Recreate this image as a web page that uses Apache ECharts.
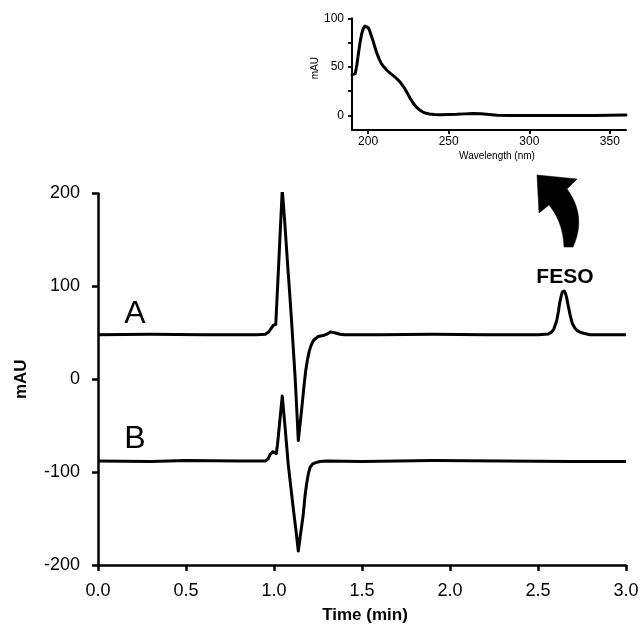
<!DOCTYPE html>
<html>
<head>
<meta charset="utf-8">
<script src="https://cdn.jsdelivr.net/npm/echarts@6/dist/echarts.min.js"></script>
<style>
  html, body { margin: 0; padding: 0; background: #fff; }
  #chart { width: 643px; height: 631px; }
</style>
</head>
<body>
<div id="chart"></div>
<script>
// Chromatogram, trace A (sample with FESO)
var timeA = [0, 0.3, 0.6, 0.9, 0.95, 0.97, 0.985, 0.996, 1.01, 1.02, 1.035, 1.047, 1.06, 1.075, 1.09, 1.1, 1.11, 1.12, 1.13, 1.138, 1.15, 1.16, 1.17, 1.18, 1.19, 1.2, 1.212, 1.225, 1.25, 1.28, 1.3, 1.32, 1.345, 1.375, 1.4, 1.6, 1.9, 2.2, 2.5, 2.559, 2.578, 2.59, 2.606, 2.616, 2.623, 2.631, 2.638, 2.644, 2.65, 2.657, 2.663, 2.672, 2.682, 2.695, 2.71, 2.725, 2.748, 2.795, 2.9, 3.0];
var signalA = [48, 48.5, 48, 48, 48.5, 51, 55, 58, 59, 98, 157, 204, 172, 130, 90, 62, 32, 2, -35, -66, -45, -27, -8, 9, 21, 30, 37, 42, 46, 47, 48.5, 51, 50, 48.5, 48, 48, 48.5, 48, 48, 48.8, 51, 54, 63, 73, 82, 89, 94, 96, 95, 92, 87.5, 79, 69.6, 60, 55, 52, 50, 48, 48, 48];

// Chromatogram, trace B (blank)
var timeB = [0, 0.3, 0.5, 0.8, 0.95, 0.965, 0.978, 0.992, 1.002, 1.013, 1.02, 1.035, 1.047, 1.06, 1.081, 1.095, 1.11, 1.125, 1.138, 1.15, 1.166, 1.176, 1.185, 1.195, 1.205, 1.22, 1.233, 1.26, 1.3, 1.5, 1.9, 2.3, 2.7, 3.0];
var signalB = [-88, -88.5, -87.5, -88, -88, -86, -81, -78, -79, -80, -70, -41, -18, -45, -92, -115, -140, -163, -185, -168, -146, -126, -113, -102, -95, -91, -90, -88.5, -88, -88.5, -87.5, -88, -88.5, -88.5];

// UV spectrum of the FESO peak
var wavelengths = [190, 191, 192, 193, 194, 195, 196, 197, 198, 199, 200, 201, 202, 203, 204, 205, 206, 207, 208, 209, 210, 212, 214, 216, 218, 220, 222, 224, 226, 228, 230, 232, 234, 236, 238, 241, 245, 250, 255, 260, 265, 270, 275, 280, 290, 300, 320, 340, 360];
var absorbance = [42, 40.5, 43, 52, 64, 75, 84, 89.5, 92, 92.5, 90.5, 87, 82, 77, 71.5, 66, 61.5, 57.5, 54, 51.5, 49.5, 46, 43, 40.5, 37.5, 34, 29.5, 24, 18, 12.5, 8.5, 5.5, 3.5, 2.2, 1.5, 1, 0.8, 1, 1.2, 1.6, 2, 1.7, 1, 0.3, 0, 0, 0, 0, 0.5];

// Axis ticks
var timeTicks = [0, 0.5, 1.0, 1.5, 2.0, 2.5, 3.0];
var mauTicks = [-200, -100, 0, 100, 200];
var specXTicks = [200, 250, 300, 350];
var specYTicks = [0, 25, 50, 75, 100];
var specYLabels = [0, 50, 100];

function pairs(xs, ys) {
  return xs.map(function (x, i) { return [x, ys[i]]; });
}

var FONT = 'Liberation Sans, Arial, Helvetica, sans-serif';
var BLACK = '#000';

function traceLabel(text, x, y, size, weight) {
  return {
    coord: [x, y],
    value: text,
    symbol: 'rect',
    symbolSize: 1,
    itemStyle: { color: 'rgba(0,0,0,0)' },
    label: {
      show: true,
      position: 'inside',
      formatter: text,
      color: BLACK,
      fontSize: size,
      fontWeight: weight,
      fontFamily: FONT
    }
  };
}

// Sample a quadratic Bezier edge into polygon points (for the arrow outline)
function quad(p0, c, p2, n) {
  var pts = [];
  for (var i = 0; i <= n; i++) {
    var t = i / n, u = 1 - t;
    pts.push([u * u * p0[0] + 2 * u * t * c[0] + t * t * p2[0],
              u * u * p0[1] + 2 * u * t * c[1] + t * t * p2[1]]);
  }
  return pts;
}

// Curved arrow outline: left edge up to the head, head, right edge back down
var arrowPoints = []
  .concat(quad([564, 247], [563, 222], [549, 205], 12))
  .concat([[539, 213], [537, 175], [577, 179]])
  .concat(quad([567, 189], [587, 216], [573, 247], 12));

var chart = echarts.init(document.getElementById('chart'), null, { renderer: 'canvas' });

var option = {
  animation: false,
  backgroundColor: '#fff',
  textStyle: { fontFamily: FONT, color: BLACK },
  grid: [
    { left: 98, right: 17, top: 193.5, bottom: 66, outerBoundsMode: 'none', containLabel: false },
    { left: 352, right: 17, top: 18.3, bottom: 501, outerBoundsMode: 'none', containLabel: false }
  ],
  xAxis: [
    {
      type: 'value', gridIndex: 0,
      min: timeTicks[0], max: timeTicks[timeTicks.length - 1], interval: 0.5,
      name: 'Time (min)', nameLocation: 'middle', nameGap: 42,
      nameTextStyle: { fontSize: 17, fontWeight: 'bold', color: BLACK, fontFamily: FONT, padding: [0, 0, 0, 6] },
      axisLine: { onZero: false, lineStyle: { color: BLACK, width: 2.5 } },
      axisTick: { show: true, inside: false, length: 6, lineStyle: { color: BLACK, width: 2.5 } },
      axisLabel: { fontSize: 18, color: BLACK, margin: 17, fontFamily: FONT,
        formatter: function (v) { return v.toFixed(1); } },
      splitLine: { show: false }
    },
    {
      type: 'value', gridIndex: 1,
      min: 190, max: 360,
      name: 'Wavelength (nm)', nameLocation: 'middle', nameGap: 21,
      nameTextStyle: { fontSize: 10, color: BLACK, fontFamily: FONT, padding: [0, 0, 0, 16] },
      axisLine: { onZero: false, lineStyle: { color: BLACK, width: 2 } },
      axisTick: { show: true, inside: false, length: 4, customValues: specXTicks, lineStyle: { color: BLACK, width: 1.8 } },
      axisLabel: { fontSize: 12, color: BLACK, margin: 6, fontFamily: FONT, customValues: specXTicks },
      splitLine: { show: false }
    }
  ],
  yAxis: [
    {
      type: 'value', gridIndex: 0,
      min: mauTicks[0], max: mauTicks[mauTicks.length - 1], interval: 100,
      name: 'mAU', nameLocation: 'middle', nameGap: 68, nameRotate: 90,
      nameTextStyle: { fontSize: 17, fontWeight: 'bold', color: BLACK, fontFamily: FONT },
      axisLine: { show: true, onZero: false, lineStyle: { color: BLACK, width: 2.5 } },
      axisTick: { show: true, inside: false, length: 6, lineStyle: { color: BLACK, width: 2.5 } },
      axisLabel: { fontSize: 18, color: BLACK, margin: 18, fontFamily: FONT },
      splitLine: { show: false }
    },
    {
      type: 'value', gridIndex: 1,
      min: -15, max: 100,
      name: 'mAU', nameLocation: 'middle', nameGap: 32, nameRotate: 90,
      nameTextStyle: { fontSize: 10, color: BLACK, fontFamily: FONT, padding: [0, 0, 0, 12] },
      axisLine: { show: true, onZero: false, lineStyle: { color: BLACK, width: 2 } },
      axisTick: { show: true, inside: false, length: 4, customValues: specYTicks, lineStyle: { color: BLACK, width: 1.8 } },
      axisLabel: { fontSize: 12, color: BLACK, margin: 8, fontFamily: FONT, customValues: specYLabels },
      splitLine: { show: false }
    }
  ],
  series: [
    {
      name: 'A', type: 'line', xAxisIndex: 0, yAxisIndex: 0,
      data: pairs(timeA, signalA),
      showSymbol: false, symbol: 'none', smooth: false,
      lineStyle: { color: BLACK, width: 3, join: 'round' },
      markPoint: {
        silent: true,
        data: [
          traceLabel('A', 0.21, 70, 32, 'normal'),
          traceLabel('FESO', 2.653, 110, 21, 'bold')
        ]
      }
    },
    {
      name: 'B', type: 'line', xAxisIndex: 0, yAxisIndex: 0,
      data: pairs(timeB, signalB),
      showSymbol: false, symbol: 'none', smooth: false,
      lineStyle: { color: BLACK, width: 3, join: 'round' },
      markPoint: {
        silent: true,
        data: [traceLabel('B', 0.21, -65, 32, 'normal')]
      }
    },
    {
      name: 'Spectrum', type: 'line', xAxisIndex: 1, yAxisIndex: 1,
      data: pairs(wavelengths, absorbance),
      showSymbol: false, symbol: 'none', smooth: false,
      lineStyle: { color: BLACK, width: 3, join: 'round', cap: 'round' }
    }
  ],
  graphic: [
    {
      // curved arrow pointing from the FESO peak up to the spectrum
      type: 'polygon',
      shape: { points: arrowPoints },
      style: { fill: BLACK, stroke: BLACK, lineWidth: 0.5 }
    }
  ]
};

chart.setOption(option);
</script>
</body>
</html>
